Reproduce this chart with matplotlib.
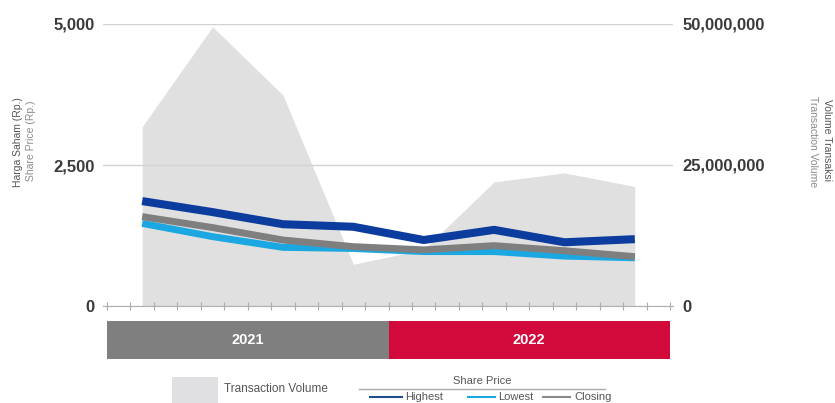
import matplotlib
matplotlib.use("Agg")
import matplotlib.pyplot as plt
from matplotlib.patches import Rectangle
from matplotlib.lines import Line2D

plt.rcParams['font.family'] = ['Liberation Sans', 'DejaVu Sans']

# data (quarterly, placed at the middle of each quarter on a monthly axis)
years = ['2021', '2022']
year_colors = ['#7f7f7f', '#d20a3c']
quarter_pos = [1.5, 4.5, 7.5, 10.5, 13.5, 16.5, 19.5, 22.5]
highest = [1860, 1665, 1450, 1405, 1170, 1350, 1130, 1185]
lowest = [1465, 1230, 1040, 1020, 965, 965, 885, 855]
closing = [1585, 1390, 1170, 1052, 995, 1070, 980, 875]
volume = [31.8e6, 49.5e6, 37.4e6, 7.4e6, 10.0e6, 22.0e6, 23.6e6, 21.2e6]
price_ticks = [0, 2500, 5000]
volume_ticks = [0, 25_000_000, 50_000_000]

W, H = 835, 403
def fx(px):
    return px / W
def fy(py):
    return 1 - py / H

fig = plt.figure(figsize=(W / 100, H / 100), dpi=100)

# main axes: 0 month at px 107, 24 months at px 670
ax = fig.add_axes([fx(103), fy(306), fx(673) - fx(103), fy(24) - fy(306)])
ax2 = ax.twinx()
ax.set_zorder(2)
ax2.set_zorder(1)
ax.patch.set_visible(False)

ppm = (670 - 107) / 24
ax.set_xlim(-4 / ppm, 24 + 3 / ppm)

# volume area
ax2.fill_between(quarter_pos, volume, 0, color='#e0e0e0', lw=0)
ax2.set_ylim(0, 50_000_000)
ax2.set_yticks(volume_ticks)
ax2.set_yticklabels([f'{v:,}' for v in volume_ticks], fontsize=12,
                    fontweight='bold', color='#3a3a3a')
ax2.tick_params(axis='y', length=0, pad=7)
for s in ax2.spines.values():
    s.set_visible(False)

# price lines
ax.plot(quarter_pos, lowest, color='#1ba8e2', lw=5, solid_capstyle='butt',
        solid_joinstyle='round', zorder=3)
ax.plot(quarter_pos, closing, color='#7f7f7f', lw=5, solid_capstyle='butt',
        solid_joinstyle='round', zorder=4)
ax.plot(quarter_pos, highest, color='#0b3c9e', lw=5.8, solid_capstyle='butt',
        solid_joinstyle='round', zorder=5)

ax.set_ylim(0, 5000)
ax.set_yticks(price_ticks)
ax.set_yticklabels([f'{v:,}' for v in price_ticks], fontsize=12,
                   fontweight='bold', color='#3a3a3a')
ax.tick_params(axis='y', length=0, pad=6)
ax.yaxis.grid(True, color='#d2d2d2', lw=1)
ax.set_xticks(range(25))
ax.set_xticklabels([])
ax.tick_params(axis='x', direction='inout', length=6, color='#aaaaaa', width=0.8)
for k in ['top', 'left', 'right']:
    ax.spines[k].set_visible(False)
ax.spines['bottom'].set_color('#b0b0b0')

# axis titles
fig.text(fx(18), fy(142), 'Harga Saham (Rp.)', rotation=90, fontsize=7.5,
         color='#555555', ha='center', va='center')
fig.text(fx(31), fy(141), 'Share Price (Rp.)', rotation=90, fontsize=7.5,
         color='#8a8a8a', ha='center', va='center')
fig.text(fx(827), fy(140), 'Volume Transaksi', rotation=270, fontsize=7.5,
         color='#555555', ha='center', va='center')
fig.text(fx(813), fy(142), 'Transaction Volume', rotation=270, fontsize=7.5,
         color='#8a8a8a', ha='center', va='center')

# year bar
axb = fig.add_axes([fx(107), fy(359), fx(670) - fx(107), fy(321) - fy(359)])
for i, (yr, c) in enumerate(zip(years, year_colors)):
    axb.barh(0, 12, left=12 * i, height=1, color=c, lw=0)
    axb.text(12 * i + 6, 0, yr, color='white', fontsize=10.5, fontweight='bold',
             ha='center', va='center')
axb.set_xlim(0, 24)
axb.set_ylim(-0.5, 0.5)
axb.axis('off')

# legend
fig.patches.append(Rectangle((fx(172), fy(403)), fx(218) - fx(172), fy(377) - fy(403),
                             transform=fig.transFigure, color='#e0e0e2', lw=0))
fig.text(fx(224), fy(389), 'Transaction Volume', fontsize=8.5, color='#555555',
         ha='left', va='center')
fig.text(fx(482), fy(381), 'Share Price', fontsize=8, color='#555555',
         ha='center', va='center')
fig.add_artist(Line2D([fx(359), fx(605)], [fy(389), fy(389)], color='#aaaaaa', lw=1))
legend_items = [('Highest', '#1f4f8f', 370, 402, 405),
                ('Lowest', '#1ba8e2', 468, 495, 498),
                ('Closing', '#8a8a8a', 543, 570, 574)]
for name, c, x0, x1, xt in legend_items:
    fig.add_artist(Line2D([fx(x0), fx(x1)], [fy(397), fy(397)], color=c, lw=1.5))
    fig.text(fx(xt), fy(397), name, fontsize=8, color='#555555', ha='left', va='center')

fig.savefig('out.png', dpi=100)
